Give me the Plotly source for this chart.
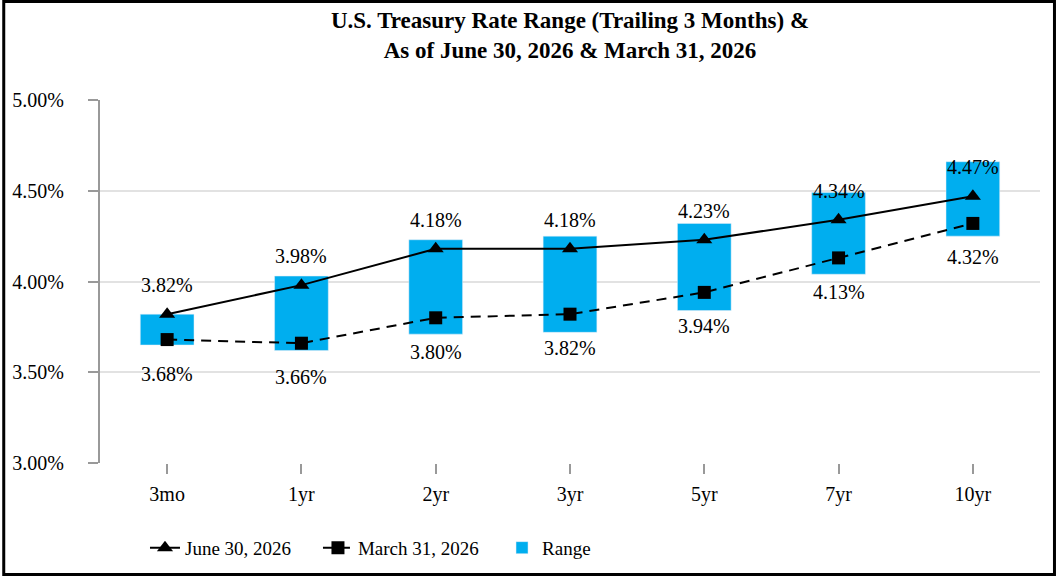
import plotly.graph_objects as go

# Treasury tenors on the x axis
tenors = ["3mo", "1yr", "2yr", "3yr", "5yr", "7yr", "10yr"]

# Yields (%) at each date
june_2026 = [3.82, 3.98, 4.18, 4.18, 4.23, 4.34, 4.47]
march_2026 = [3.68, 3.66, 3.80, 3.82, 3.94, 4.13, 4.32]

# Trailing 3 month range (%) per tenor
range_low = [3.65, 3.62, 3.71, 3.72, 3.84, 4.04, 4.25]
range_high = [3.82, 4.03, 4.23, 4.25, 4.32, 4.49, 4.66]

y_ticks = [3.00, 3.50, 4.00, 4.50, 5.00]

FONT = "Liberation Serif, Times New Roman, serif"
BLUE = "#00AEEF"

fig = go.Figure()

# Floating bars for the range: base = low, height = high - low
fig.add_trace(go.Bar(
    x=tenors, y=[h - l for h, l in zip(range_high, range_low)],
    base=range_low, name="Range", marker_color=BLUE, width=0.4,
    legend="legend3"))

fig.add_trace(go.Scatter(
    x=tenors, y=june_2026, name="June 30, 2026", mode="lines+markers",
    line=dict(color="black", width=2),
    marker=dict(symbol="triangle-up", size=14, color="black"),
    legend="legend"))

fig.add_trace(go.Scatter(
    x=tenors, y=march_2026, name="March 31, 2026", mode="lines+markers",
    line=dict(color="black", width=2, dash="10px,7px"),
    marker=dict(symbol="square", size=13, color="black"),
    legend="legend2"))

# Data labels: June above the markers, March below
for t, v in zip(tenors, june_2026):
    fig.add_annotation(x=t, y=v, text=f"{v:.2f}%", showarrow=False,
                       yanchor="middle", yshift=29,
                       font=dict(family=FONT, size=20, color="black"))
for t, v in zip(tenors, march_2026):
    fig.add_annotation(x=t, y=v, text=f"{v:.2f}%", showarrow=False,
                       yanchor="middle", yshift=-34,
                       font=dict(family=FONT, size=20, color="black"))

# Black frame around the whole picture
fig.add_shape(type="rect", xref="paper", yref="paper",
              x0=-0.1024, x1=1.0154, y0=-0.3072, y1=1.2713,
              line=dict(color="black", width=3), layer="above")

# legends placed on the container so they don't eat into the plot area
legend_common = dict(orientation="h", xref="container", yref="container",
                     yanchor="middle", y=0.049, xanchor="left",
                     bgcolor="rgba(0,0,0,0)",
                     font=dict(family=FONT, size=19, color="black"))

fig.update_layout(
    width=1056, height=576,
    margin=dict(l=98, r=16, t=100, b=113),
    paper_bgcolor="white", plot_bgcolor="white",
    font=dict(family=FONT, size=20, color="black"),
    showlegend=True,
    title=dict(
        text="<b>U.S. Treasury Rate Range (Trailing 3 Months) &<br>"
             "As of June 30, 2026 & March 31, 2026</b>",
        x=0.5, xanchor="center", xref="paper",
        y=0.951, yanchor="top", yref="container",
        font=dict(family=FONT, size=23, color="black")),
    legend=dict(x=0.1373, **legend_common),
    legend2=dict(x=0.3011, **legend_common),
    legend3=dict(x=0.4754, **legend_common),
    xaxis=dict(
        showgrid=False, showline=False, zeroline=False,
        ticks="outside", ticklen=10, tickwidth=2, tickcolor="#999999",
        ticklabelstandoff=3,
        tickfont=dict(family=FONT, size=20, color="black")),
    yaxis=dict(
        range=[3.0, 5.0], tickvals=y_ticks,
        ticktext=[f"{v:.2f}%" for v in y_ticks],
        showgrid=True, gridcolor="#e2e2e2", gridwidth=2,
        showline=True, linecolor="#999999", linewidth=2,
        zeroline=False,
        ticks="outside", ticklen=10, tickwidth=2, tickcolor="#999999",
        ticklabelstandoff=20,
        tickfont=dict(family=FONT, size=20, color="black")),
)

# drop the default page margin so the figure sits flush in the window
fig.write_html("out.html", config={"displayModeBar": False},
               post_script="document.body.style.margin='0';")
